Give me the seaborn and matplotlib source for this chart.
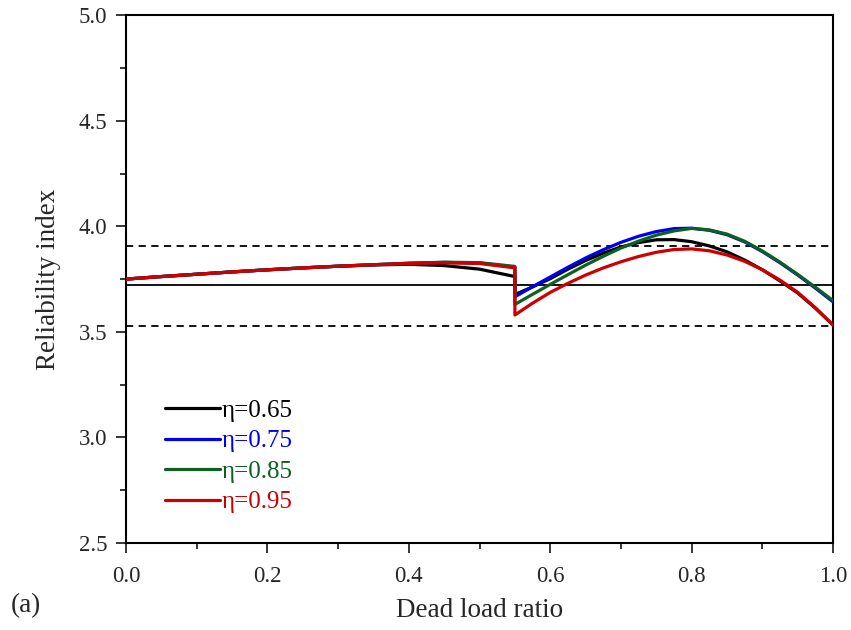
import numpy as np
import pandas as pd
import matplotlib
matplotlib.use("Agg")
import matplotlib.pyplot as plt
import seaborn as sns
from matplotlib.ticker import MultipleLocator

# ---- data ----
x_left = [0.00, 0.05, 0.10, 0.15, 0.20, 0.25, 0.30, 0.35, 0.40, 0.45, 0.50, 0.55]
x_right = [0.55, 0.575, 0.60, 0.625, 0.65, 0.675, 0.70, 0.725, 0.75, 0.775,
           0.80, 0.825, 0.85, 0.875, 0.90, 0.925, 0.95, 0.975, 1.00]

left_065 = [3.750, 3.762, 3.773, 3.784, 3.794, 3.803, 3.811, 3.817, 3.820, 3.814, 3.797, 3.762]
left_075 = [3.750, 3.762, 3.773, 3.784, 3.794, 3.803, 3.811, 3.818, 3.825, 3.829, 3.826, 3.807]
left_085 = [3.750, 3.762, 3.773, 3.784, 3.794, 3.803, 3.811, 3.818, 3.825, 3.830, 3.828, 3.810]
left_095 = [3.750, 3.762, 3.773, 3.784, 3.794, 3.803, 3.811, 3.818, 3.824, 3.827, 3.824, 3.803]

right_065 = [3.677, 3.713, 3.752, 3.797, 3.838, 3.873, 3.902, 3.923, 3.936, 3.937,
             3.927, 3.907, 3.879, 3.840, 3.794, 3.741, 3.684, 3.612, 3.532]
right_075 = [3.666, 3.714, 3.760, 3.806, 3.850, 3.889, 3.924, 3.953, 3.975, 3.989,
             3.991, 3.981, 3.960, 3.926, 3.880, 3.827, 3.769, 3.707, 3.642]
right_085 = [3.630, 3.678, 3.725, 3.771, 3.816, 3.858, 3.897, 3.930, 3.958, 3.978,
             3.990, 3.983, 3.963, 3.929, 3.883, 3.830, 3.772, 3.711, 3.648]
right_095 = [3.580, 3.636, 3.687, 3.730, 3.769, 3.803, 3.832, 3.857, 3.877, 3.890,
             3.893, 3.884, 3.864, 3.834, 3.794, 3.745, 3.687, 3.614, 3.532]

labels = ["η=0.65", "η=0.75", "η=0.85", "η=0.95"]
colors = ["#000000", "#0000ee", "#0d6120", "#cc0000"]

target_mean = 3.72
target_upper = 3.905
target_lower = 3.527

y_ticks = [2.5, 3.0, 3.5, 4.0, 4.5, 5.0]
x_ticks = [0.0, 0.2, 0.4, 0.6, 0.8, 1.0]

# ---- build table ----
rows = []
for lab, lft, rgt in zip(labels, [left_065, left_075, left_085, left_095],
                         [right_065, right_075, right_085, right_095]):
    for xv, yv in zip(x_left + x_right, lft + rgt):
        rows.append({"x": xv, "y": yv, "eta": lab})
df = pd.DataFrame(rows)

sns.set_style("ticks")
plt.rcParams["font.family"] = ["Liberation Serif", "DejaVu Serif"]

fig = plt.figure(figsize=(8.51, 6.30), dpi=100)
ax = fig.add_axes([0.148, 0.138, 0.831, 0.838])

ax.axhline(target_mean, color="black", lw=1.3, zorder=1)
ax.axhline(target_upper, color="black", lw=1.3, ls=(0, (4, 3)), zorder=1)
ax.axhline(target_lower, color="black", lw=1.3, ls=(0, (4, 3)), zorder=1)

sns.lineplot(data=df, x="x", y="y", hue="eta", palette=dict(zip(labels, colors)),
             estimator=None, sort=False, lw=2.3, ax=ax, zorder=3)

ax.set_xlim(0, 1.0)
ax.set_ylim(2.5, 5.0)
ax.set_xticks(x_ticks)
ax.set_yticks(y_ticks)
ax.xaxis.set_minor_locator(MultipleLocator(0.1))
ax.yaxis.set_minor_locator(MultipleLocator(0.25))
ax.set_xticklabels([f"{v:.1f}" for v in x_ticks])
ax.set_yticklabels([f"{v:.1f}" for v in y_ticks])
ax.tick_params(axis="both", which="major", direction="out", length=7.5, width=1.3,
               labelsize=16.5, top=False, right=False)
ax.tick_params(axis="both", which="minor", direction="out", length=4, width=1.3,
               top=False, right=False)
ax.tick_params(axis="x", which="major", pad=9)
ax.tick_params(axis="y", which="major", pad=6)
for s in ax.spines.values():
    s.set_linewidth(1.5)
    s.set_color("black")
    s.set_visible(True)

ax.set_xlabel("Dead load ratio", fontsize=19.5, labelpad=8)
ax.set_ylabel("Reliability index", fontsize=19.5, labelpad=13)

leg = ax.legend(loc="upper left", bbox_to_anchor=(0.041, 0.291), frameon=False,
                fontsize=18, handlelength=2.2, handletextpad=0.08, labelspacing=0.32,
                borderaxespad=0)
for txt, c in zip(leg.get_texts(), colors):
    txt.set_color(c)
for ln in leg.get_lines():
    ln.set_linewidth(2.3)

fig.text(0.013, 0.019, "(a)", fontsize=19.5, ha="left", va="bottom")

fig.savefig("out.png", dpi=100)
